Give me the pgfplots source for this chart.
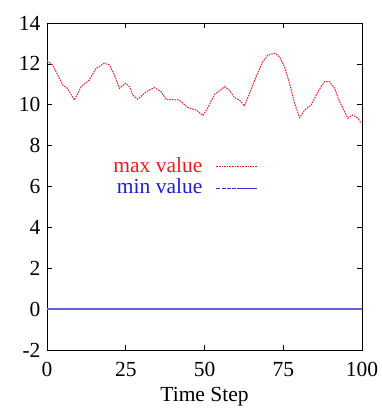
\documentclass[border=0pt]{standalone}
\usepackage{fontspec}
\setmainfont{Liberation Serif}
\usepackage{pgfplots}
\pgfplotsset{compat=1.18}
\definecolor{maxred}{RGB}{225,35,40}
\definecolor{lineblue}{RGB}{95,95,220}
\definecolor{legblue}{RGB}{50,50,220}
\definecolor{txtred}{RGB}{230,30,30}
\definecolor{txtblue}{RGB}{30,30,210}
\begin{document}
\begin{tikzpicture}
\useasboundingbox (-47bp,-58bp) rectangle (335bp,350bp);
\begin{axis}[
  at={(0,0)}, anchor=south west,
  scale only axis, width=315bp, height=327bp,
  xmin=0, xmax=100, ymin=-2, ymax=14,
  xtick={0,25,50,75,100}, ytick={-2,0,2,4,6,8,10,12,14},
  tick align=inside, major tick length=5bp,
  tick style={black, line width=0.6bp},
  axis line style={line width=0.8bp},
  font=\fontsize{21.5bp}{23bp}\selectfont,
  /pgf/number format/assume math mode=true,
  xticklabel style={yshift=-9bp},
  yticklabel style={xshift=-3bp},
  xlabel={Time Step},
  xlabel style={at={(axis description cs:0.5,0)}, anchor=north, yshift=-34bp},
  legend plot pos=none,
  legend cell align=right,
  legend style={at={(axis description cs:0.50,0.594)}, anchor=north east,
    draw=none, fill=none, inner sep=0pt, row sep=0bp,
    font=\fontsize{21.5bp}{23bp}\selectfont},
]
\addplot[draw=maxred, dash pattern=on 1.6bp off 1bp, line width=1bp] coordinates {
(0,12.14) (1.8,11.95) (3.4,11.46) (5,10.97) (6.5,10.8) (8.7,10.23)
(10.8,10.88) (13.4,11.2) (15.6,11.78) (18.2,12.03) (19.8,11.95) (21.4,11.46)
(23,10.8) (24.9,11.05) (26.2,10.88) (27.2,10.48) (28.8,10.27) (31.5,10.64)
(34.1,10.84) (36.2,10.64) (37.8,10.27) (42,10.23) (44.7,9.86) (47.4,9.74)
(49.5,9.47) (51,9.83) (53.2,10.51) (56.4,10.88) (57.9,10.72) (59.5,10.35)
(61.1,10.23) (62.7,9.94) (64.3,10.56) (66.4,11.37) (68.5,12.11) (70.1,12.43)
(72.3,12.52) (73.8,12.35) (75.4,11.86) (77,11.05) (78.6,10.07) (80.2,9.37)
(81.8,9.74) (83.9,9.99) (86,10.64) (88.1,11.13) (89.7,11.13) (91.3,10.8)
(92.9,10.15) (95.5,9.34) (97.1,9.5) (98.7,9.34) (99.8,9.09)
};
\addlegendentry{\textcolor{txtred}{max value}}
\addplot[draw=lineblue, line width=1.3bp] coordinates {
(0,0) (25,0) (50,0) (75,0) (100,0)
};
\addlegendentry{\textcolor{txtblue}{min value}}
% legend line samples, drawn in axis coordinates
\addplot[draw=maxred, dash pattern=on 1.6bp off 1bp, line width=1.1bp, forget plot] coordinates {(53.8,7.0) (66.8,7.0)};
\addplot[draw=legblue, dash pattern=on 4bp off 1.2bp, line width=1.2bp, forget plot] coordinates {(53.8,5.92) (61.5,5.92)};
\addplot[draw=legblue, line width=1.2bp, forget plot] coordinates {(61.5,5.92) (66.8,5.92)};
\end{axis}
\end{tikzpicture}
\end{document}
